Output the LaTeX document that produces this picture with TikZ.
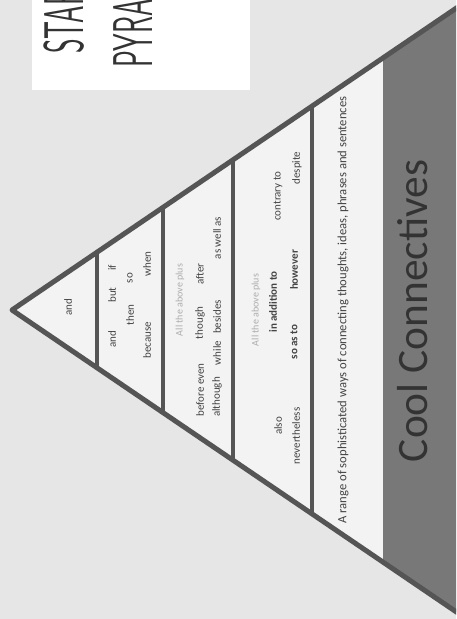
\documentclass[tikz,border=0pt]{standalone}
\usepackage{fontspec}
\setmainfont{Carlito}
\usetikzlibrary{calc}
\definecolor{bgc}{HTML}{E6E6E6}
\definecolor{tric}{HTML}{F3F3F3}
\definecolor{bandc}{HTML}{787878}
\definecolor{linec}{HTML}{555555}
\definecolor{wordc}{HTML}{444444}
\definecolor{faintc}{HTML}{ADADAD}
\definecolor{titlec}{HTML}{333333}
\begin{document}
\begin{tikzpicture}[x=1pt,y=-1pt,
  edge/.style={draw=linec,line width=5pt,line join=round},
  divider/.style={draw=linec,line width=3.2pt},
  w/.style={rotate=90,inner sep=0pt,text=wordc,font=\fontsize{11}{11}\selectfont},
  wb/.style={w,font=\fontsize{11}{11}\selectfont\bfseries},
  faint/.style={w,text=faintc,font=\fontsize{10}{10}\selectfont},
  titletext/.style={rotate=90,inner sep=0pt,text=titlec,anchor=west,font=\sffamily\fontsize{56}{56}\selectfont}]
\useasboundingbox (0,0) rectangle (456,619);
\clip (0,0) rectangle (456,619);
\fill[bgc] (0,0) rectangle (456,619);
% title box
\fill[white] (32,0) rectangle (250,90);
\node[titletext] (t1) at (64,54) {\scalebox{0.5}[1]{STAR}};
\node[titletext] (t2) at (133,68) {\scalebox{0.5}[1]{PYRAMID}};
% triangle
\coordinate (apex) at (12,310);
\coordinate (tr) at (480,-8);
\coordinate (br) at (480,628);
\fill[tric] (apex) -- (tr) -- (br) -- cycle;
\begin{scope}
  \clip (apex) -- (tr) -- (br) -- cycle;
  \fill[bandc] (383,-20) rectangle (490,640);
\end{scope}
% dividers
\foreach \t/\n in {0.1816/1,0.3226/2,0.4722/3,0.641/4}{
  \coordinate (d\n a) at ($(apex)!\t!(tr)$);
  \coordinate (d\n b) at ($(apex)!\t!(br)$);
  \draw[divider] (d\n a) -- (d\n b);
}
\draw[edge] (tr) -- (apex) -- (br);
% box 1
\node[w] (and1) at (68,307) {and};
% box 2
\node[w] (and2) at (112,339) {and};
\node[w] (but) at (112,295) {but};
\node[w] (if) at (112,268) {if};
\node[w] (then) at (130,315) {then};
\node[w] (so) at (130,278) {so};
\node[w] (because) at (147,340) {because};
\node[w] (when) at (147,264) {when};
% box 3
\node[faint] (plus1) at (180,300) {All the above plus};
\node[w] (beforeeven) at (200,390) {before even};
\node[w] (though) at (200,323) {though};
\node[w] (after) at (200,274) {after};
\node[w] (although) at (217,397) {although};
\node[w] (while) at (217,353) {while};
\node[w] (besides) at (217,317) {besides};
\node[w] (aswellas) at (217,238) {as well as};
% box 4
\node[faint] (plus2) at (256,310) {All the above plus};
\node[wb] (inaddition) at (273,302) {in addition to};
\node[wb] (soasto) at (294,342) {so as to};
\node[wb] (however) at (294,270) {however};
\node[w] (also) at (278,426) {also};
\node[w] (nevertheless) at (296,436) {nevertheless};
\node[w] (contrary) at (278,196) {contrary to};
\node[w] (despite) at (297,168) {despite};
% box 5
\node[w] (sentence) at (343,310) {\resizebox{427pt}{!}{A range of sophisticated ways of connecting thoughts, ideas, phrases and sentences}};
% band
\node[rotate=90,inner sep=0pt,text=titlec] (cool) at (413,311) {\resizebox{302pt}{!}{Cool Connectives}};
\end{tikzpicture}
\end{document}
